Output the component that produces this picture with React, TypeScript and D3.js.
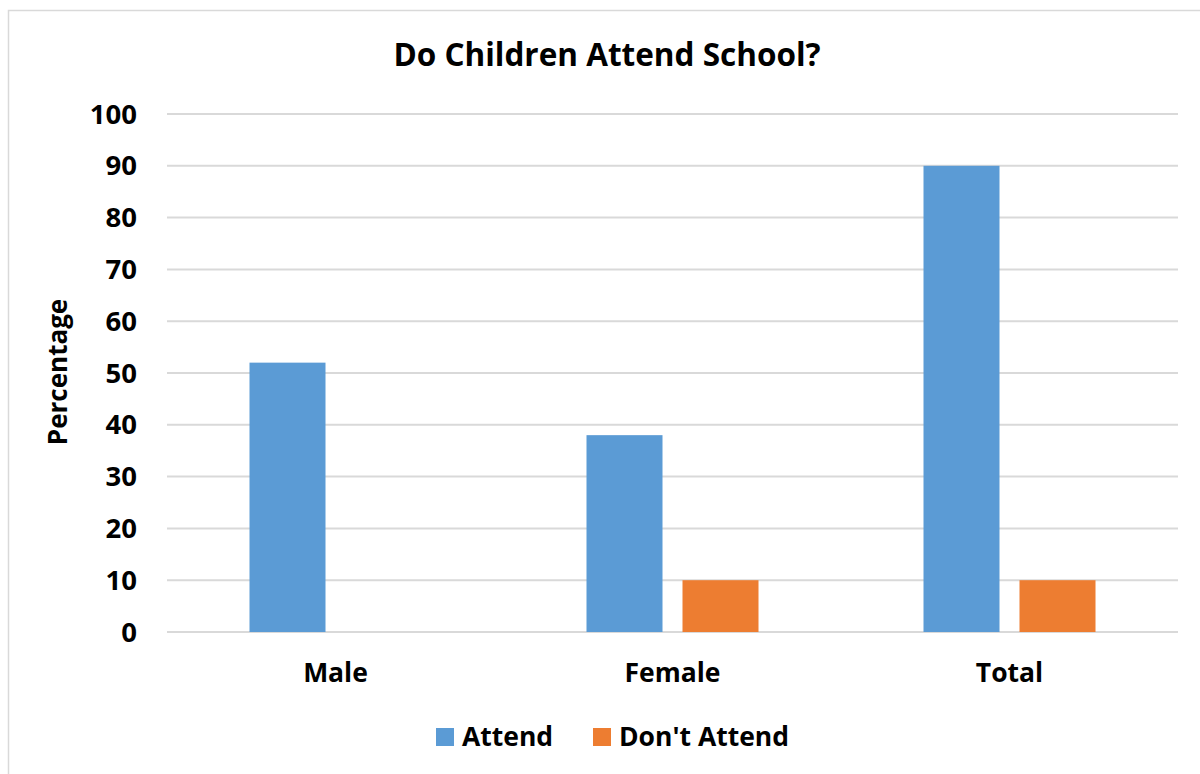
import React from "react";
import * as d3 from "d3";

const categories = ["Male", "Female", "Total"];
const seriesNames = ["Attend", "Don't Attend"];
const attend = [52, 38, 90];
const dontAttend = [0, 10, 10];
const yTicks = [0, 10, 20, 30, 40, 50, 60, 70, 80, 90, 100];
const colors = ["#5B9BD5", "#ED7D31"];

const W = 1200;
const H = 774;
const FONT = "'Open Sans', 'Liberation Sans', sans-serif";

export default function App() {
  const plot = { left: 167, right: 1178, top: 114, bottom: 632 };
  const x = d3.scaleBand<string>().domain(categories).range([plot.left, plot.right]);
  const y = d3.scaleLinear().domain([0, 100]).range([plot.bottom, plot.top]);
  const barW = 76;
  const gap = 20;
  const series = [attend, dontAttend];

  return (
    <svg
      width={W}
      height={H}
      style={{ position: "absolute", left: 0, top: 0, background: "#fff" }}
      fontFamily={FONT}
    >
      <rect x={8.5} y={10.5} width={W} height={H} fill="#fff" stroke="#d9d9d9" strokeWidth={1.5} />
      <text x={607} y={55} dy="0.35em" textAnchor="middle" fontSize={31.5} fontWeight={700} fill="#000">
        Do Children Attend School?
      </text>
      {yTicks.map((t) => (
        <g key={t}>
          <line x1={plot.left} x2={plot.right} y1={y(t)} y2={y(t)} stroke="#d9d9d9" strokeWidth={2} />
          <text x={137} y={y(t)} dy="0.35em" textAnchor="end" fontSize={27.5} fontWeight={700} fill="#000">
            {t}
          </text>
        </g>
      ))}
      {categories.map((c, i) => {
        const cx = (x(c) ?? 0) + x.bandwidth() / 2;
        const start = cx - (2 * barW + gap) / 2;
        return (
          <g key={c}>
            {series.map((s, j) =>
              s[i] > 0 ? (
                <rect
                  key={j}
                  x={start + j * (barW + gap)}
                  y={y(s[i])}
                  width={barW}
                  height={y(0) - y(s[i])}
                  fill={colors[j]}
                />
              ) : null
            )}
            <text x={cx} y={673} dy="0.35em" textAnchor="middle" fontSize={26.5} fontWeight={700} fill="#000">
              {c}
            </text>
          </g>
        );
      })}
      <text
        transform={`translate(58,372) rotate(-90)`}
        textAnchor="middle"
        dy="0.35em"
        fontSize={26}
        fontWeight={700}
        fill="#000"
      >
        Percentage
      </text>
      {seriesNames.map((n, j) => {
        const lx = [436, 593][j];
        return (
          <g key={n}>
            <rect x={lx} y={728} width={18} height={18} fill={colors[j]} />
            <text x={lx + 26} y={737} dy="0.35em" fontSize={26.5} fontWeight={700} fill="#000">
              {n}
            </text>
          </g>
        );
      })}
    </svg>
  );
}
